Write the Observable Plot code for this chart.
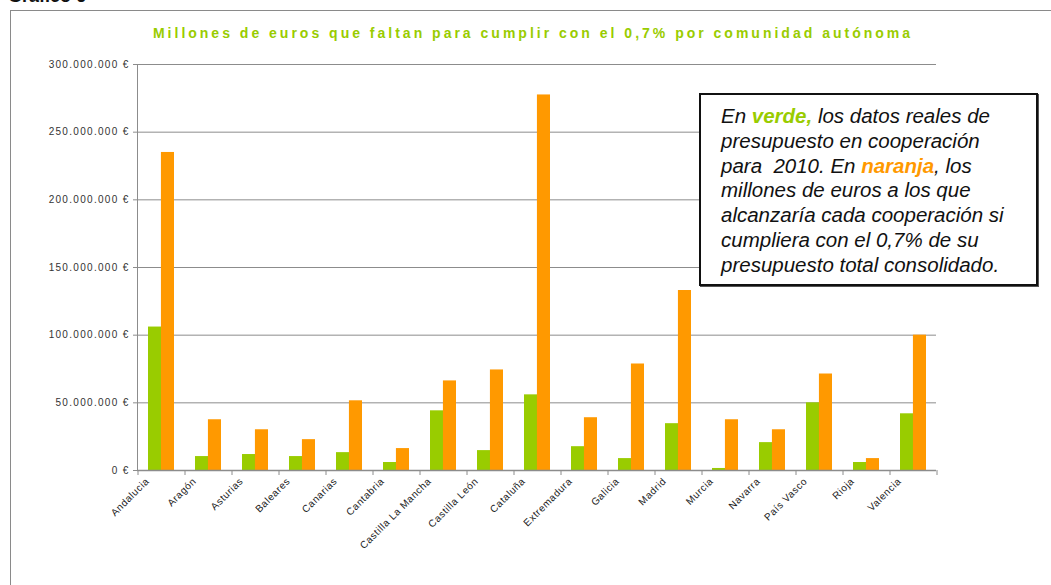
<!DOCTYPE html>
<html><head><meta charset="utf-8">
<script src="https://cdn.jsdelivr.net/npm/d3@7"></script>
<script src="https://cdn.jsdelivr.net/npm/@observablehq/plot@0.6"></script>
<style>
body{margin:0;background:#fff;font-family:"Liberation Sans",Arial,sans-serif;}
#wrap{position:relative;width:1051px;height:585px;overflow:hidden;background:#fff;}
#frame{position:absolute;left:10px;top:10px;width:1080px;height:620px;border:1px solid #8a8a8a;}
#fig{position:absolute;left:0;top:0;}
#grafico{position:absolute;left:8px;top:-14px;font-size:18px;font-weight:bold;color:#111;}
#title{position:absolute;top:25px;left:0;width:1066px;text-align:center;font-size:14px;font-weight:bold;color:#99cc00;letter-spacing:3px;white-space:nowrap;}
#nota{position:absolute;left:699px;top:93px;width:315px;height:180px;border:2px solid #111;box-shadow:1px 1px 0 #555;background:#fff;padding:9px 0 0 20px;font-style:italic;font-size:20.5px;line-height:24.8px;color:#111;white-space:nowrap;overflow:hidden;}
#nota .v{color:#99cc00;font-weight:bold;}
#nota .n{color:#ff9900;font-weight:bold;}
svg [aria-label="y-axis tick label"] text{letter-spacing:1.3px;}
svg [aria-label="x-axis tick label"] text{letter-spacing:0.6px;}
</style></head>
<body>
<div id="wrap">
  <div id="frame"></div>
  <div id="grafico">Gráfico 6</div>
  <div id="fig"></div>
  <div id="title">Millones de euros que faltan para cumplir con el 0,7% por comunidad autónoma</div>
  <div id="nota">En <span class="v">verde,</span> los datos reales de<br>presupuesto en cooperación<br>para&nbsp; 2010. En <span class="n">naranja</span>, los<br>millones de euros a los que<br>alcanzaría cada cooperación si<br>cumpliera con el 0,7% de su<br>presupuesto total consolidado.</div>
</div>
<script>
const comunidades = ["Andalucia","Aragón","Asturias","Baleares","Canarias","Cantabria","Castilla La Mancha","Castilla León","Cataluña","Extremadura","Galicia","Madrid","Murcia","Navarra","País Vasco","Rioja","Valencia"];
const realesVerde = [106e6, 10.3e6, 11.8e6, 10.3e6, 13.2e6, 5.9e6, 44.1e6, 14.7e6, 55.9e6, 17.6e6, 8.8e6, 34.6e6, 1.5e6, 20.6e6, 50e6, 5.9e6, 41.9e6];
const objetivoNaranja = [235e6, 37.5e6, 30.1e6, 22.8e6, 51.5e6, 16.2e6, 66.2e6, 74.3e6, 277.5e6, 39e6, 78.7e6, 133e6, 37.5e6, 30.1e6, 71.3e6, 8.8e6, 100e6];
const yTicks = [0, 50e6, 100e6, 150e6, 200e6, 250e6, 300e6];
const colorVerde = "#99cc00", colorNaranja = "#ff9900";

const W = 1051, H = 585, mL = 137, mR = 115, mT = 64, mB = 115;
const pInner = 0.45, pOuter = 0.225;
const step = (W - mL - mR) / comunidades.length;
const halfBand = step * (1 - pInner) / 2;

const filas = comunidades.map((c, i) => ({c, verde: realesVerde[i], naranja: objetivoNaranja[i]}));
const fmt = d => d3.format(",")(d).replace(/,/g, ".") + " €";

const chart = Plot.plot({
  width: W, height: H,
  marginLeft: mL, marginRight: mR, marginTop: mT, marginBottom: mB,
  style: {fontFamily: "'Liberation Sans', Arial, sans-serif", background: "transparent"},
  x: {domain: comunidades, paddingInner: pInner, paddingOuter: pOuter, label: null},
  y: {domain: [0, 300e6], label: null},
  marks: [
    Plot.gridY(yTicks, {stroke: "#8c8c8c", strokeOpacity: 1}),
    Plot.barY(filas, {x: "c", y: "verde", fill: colorVerde, insetRight: halfBand}),
    Plot.barY(filas, {x: "c", y: "naranja", fill: colorNaranja, insetLeft: halfBand}),
    Plot.frame({anchor: "left", stroke: "#8c8c8c"}),
    Plot.ruleY([0], {stroke: "#8c8c8c", strokeWidth: 1.3}),
    Plot.axisY({ticks: yTicks, tickFormat: fmt, tickSize: 4, tickPadding: 4, fontSize: 10, fill: "#333", stroke: "#8c8c8c", label: null}),
    Plot.axisX({ticks: comunidades, tickSize: 5, tickFormat: () => "", dx: -step / 2, stroke: "#8c8c8c", label: null}),
    Plot.axisX({ticks: [comunidades[comunidades.length - 1]], tickSize: 5, tickFormat: () => "", dx: step / 2, stroke: "#8c8c8c", label: null}),
    Plot.axisX({ticks: comunidades, tickSize: 0, tickPadding: 9, tickRotate: -45, dx: -14, fontSize: 10, fill: "#222", label: null})
  ]
});
document.getElementById("fig").appendChild(chart);
</script>
</body></html>
